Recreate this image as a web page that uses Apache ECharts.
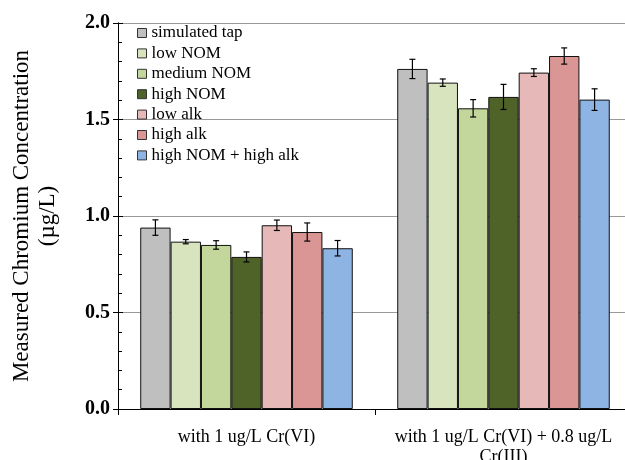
<!DOCTYPE html>
<html>
<head>
<meta charset="utf-8">
<script src="https://cdn.jsdelivr.net/npm/echarts@6/dist/echarts.min.js"></script>
<style>html,body{margin:0;padding:0;background:#fff;}#c{width:625px;height:460px;}</style>
</head>
<body>
<div id="c"></div>
<script>
const categories = ['with 1 ug/L Cr(VI)', 'with 1 ug/L Cr(VI) + 0.8 ug/L Cr(III)'];
const seriesNames = ['simulated tap', 'low NOM', 'medium NOM', 'high NOM', 'low alk', 'high alk', 'high NOM + high alk'];
const colors = ['#BFBFBF', '#D7E4BD', '#C3D69B', '#4F6228', '#E6B9B8', '#D99694', '#8EB4E3'];
const simulatedTap = [0.94, 1.762];
const lowNOM = [0.867, 1.691];
const mediumNOM = [0.85, 1.558];
const highNOM = [0.788, 1.617];
const lowAlk = [0.952, 1.743];
const highAlk = [0.917, 1.829];
const highNOMHighAlk = [0.833, 1.603];
const errSimulatedTap = [0.04, 0.05];
const errLowNOM = [0.011, 0.019];
const errMediumNOM = [0.022, 0.045];
const errHighNOM = [0.026, 0.065];
const errLowAlk = [0.027, 0.02];
const errHighAlk = [0.047, 0.042];
const errHighNOMHighAlk = [0.04, 0.056];
const yTicks = [0, 0.5, 1.0, 1.5, 2.0];

const values = [simulatedTap, lowNOM, mediumNOM, highNOM, lowAlk, highAlk, highNOMHighAlk];
const errors = [errSimulatedTap, errLowNOM, errMediumNOM, errHighNOM, errLowAlk, errHighAlk, errHighNOMHighAlk];
const CAT_GAP = 0.173;
const FONT = '"Liberation Serif", "Times New Roman", serif';

const errData = [];
values.forEach((vals, s) => {
  vals.forEach((v, c) => {
    errData.push([c, s, v - errors[s][c], v + errors[s][c]]);
  });
});

const barSeries = seriesNames.map((name, i) => ({
  name: name,
  type: 'bar',
  data: values[i],
  barGap: '0%',
  barCategoryGap: (CAT_GAP * 100) + '%',
  itemStyle: { color: colors[i], borderColor: '#111', borderWidth: 1 },
  emphasis: { disabled: true },
  animation: false
}));

const errSeries = {
  type: 'custom',
  name: 'err',
  data: errData,
  encode: { x: 0, y: [2, 3] },
  z: 10,
  animation: false,
  renderItem: function (params, api) {
    const c = api.value(0);
    const s = api.value(1);
    const band = api.size([1, 0])[0];
    const bw = band * (1 - CAT_GAP) / seriesNames.length;
    const cx = api.coord([c, 0])[0] + (s - (seriesNames.length - 1) / 2) * bw;
    const yl = api.coord([c, api.value(2)])[1];
    const yh = api.coord([c, api.value(3)])[1];
    const cap = 3;
    const st = { stroke: '#000', lineWidth: 1.2 };
    return {
      type: 'group',
      children: [
        { type: 'line', shape: { x1: cx, y1: yl, x2: cx, y2: yh }, style: st },
        { type: 'line', shape: { x1: cx - cap, y1: yl, x2: cx + cap, y2: yl }, style: st },
        { type: 'line', shape: { x1: cx - cap, y1: yh, x2: cx + cap, y2: yh }, style: st }
      ]
    };
  }
};

const chart = echarts.init(document.getElementById('c'), null, { renderer: 'canvas' });
chart.setOption({
  backgroundColor: '#fff',
  animation: false,
  grid: { left: 118, top: 23, bottom: 51, right: -7, containLabel: false, outerBoundsMode: 'none' },
  legend: {
    data: seriesNames,
    orient: 'vertical',
    left: 137,
    top: 24,
    padding: 0,
    itemGap: 2.4,
    itemWidth: 9,
    itemHeight: 9,
    icon: 'rect',
    itemStyle: { borderColor: '#333', borderWidth: 1 },
    textStyle: { fontFamily: FONT, fontSize: 17, color: '#000', lineHeight: 18 }
  },
  xAxis: {
    type: 'category',
    data: categories,
    axisLine: { lineStyle: { color: '#000', width: 1 } },
    axisTick: { show: true, length: 6, lineStyle: { color: '#000' } },
    axisLabel: {
      fontFamily: FONT, fontSize: 18, color: '#000', margin: 18, lineHeight: 20,
      interval: 0,
      formatter: function (v) { return v.replace(' Cr(III)', '\nCr(III)'); }
    },
    splitLine: { show: false }
  },
  yAxis: [
    {
      type: 'value',
      position: 'left',
      min: yTicks[0],
      max: yTicks[yTicks.length - 1],
      interval: 0.5,
      name: 'Measured Chromium Concentration\n(µg/L)',
      nameLocation: 'middle',
      nameGap: 57,
      nameRotate: 90,
      nameTextStyle: { fontFamily: FONT, fontSize: 23, color: '#000', lineHeight: 26 },
      axisLine: { show: true, lineStyle: { color: '#000', width: 1 } },
      axisTick: { show: true, inside: false, length: 5, lineStyle: { color: '#000' } },
      axisLabel: {
        fontFamily: FONT, fontSize: 20, fontWeight: 'bold', color: '#000', margin: 8,
        formatter: function (v) { return v.toFixed(1); }
      },
      splitLine: { show: true, lineStyle: { color: '#999', width: 1 } }
    },
    {
      type: 'value',
      position: 'left',
      min: yTicks[0],
      max: yTicks[yTicks.length - 1],
      interval: 0.5,
      axisLine: { show: true, lineStyle: { color: '#000', width: 1 } },
      axisTick: { show: true, inside: true, length: 5, lineStyle: { color: '#000' } },
      minorTick: { show: true, splitNumber: 5, length: 4, lineStyle: { color: '#000' } },
      axisLabel: { show: false },
      splitLine: { show: false }
    }
  ],
  series: barSeries.concat([errSeries])
});
</script>
</body>
</html>
